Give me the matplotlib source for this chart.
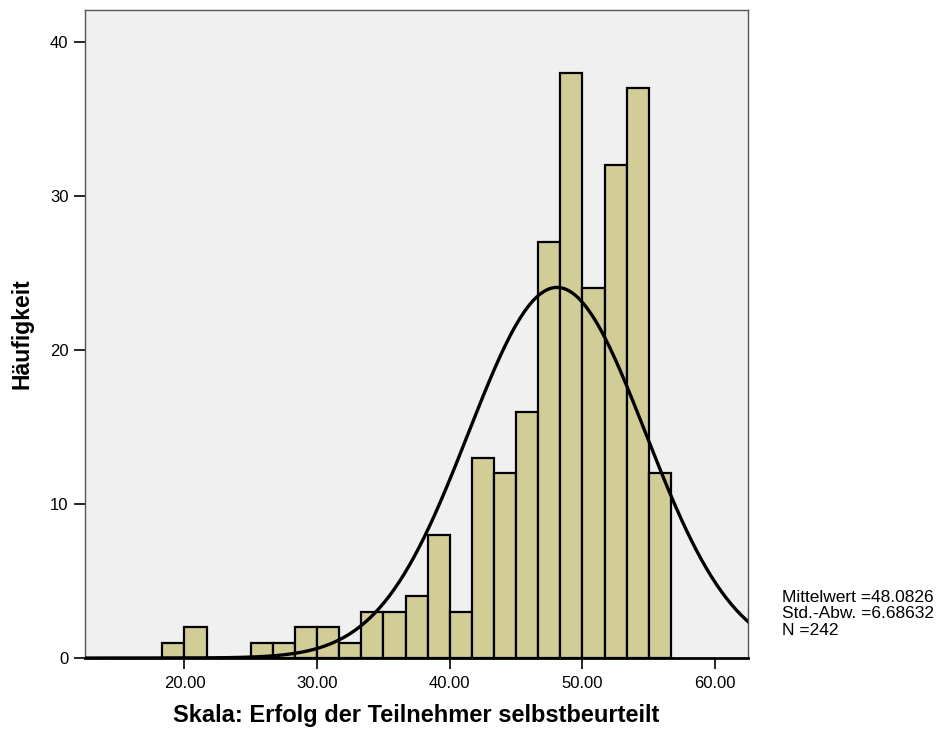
import numpy as np
import matplotlib
matplotlib.use("Agg")
from matplotlib import pyplot as plt

# histogram of the scale, bins of width 5/3 starting at 18.33
bin_edges = [18.3333 + i * (5.0 / 3.0) for i in range(24)]
counts = [1, 2, 0, 0, 1, 1, 2, 2, 1, 3, 3, 4, 8, 3, 13, 12, 16, 27, 38, 24, 32, 37, 12]
mean = 48.0826
sd = 6.68632
n = 242
x_ticks = [20, 30, 40, 50, 60]
y_ticks = [0, 10, 20, 30, 40]


def main():
    plt.rcParams["font.family"] = ["Liberation Sans", "DejaVu Sans"]
    fig = plt.figure(figsize=(9.38, 7.30), dpi=100)
    ax = fig.add_axes([0.0906, 0.0986, 0.7071, 0.8877])
    ax.set_facecolor("#f0f0f0")

    widths = np.diff(bin_edges)
    ax.bar(bin_edges[:-1], counts, width=widths, align="edge",
           color="#d2cd96", edgecolor="black", linewidth=1.6, zorder=2)

    # normal curve scaled to counts
    bw = 5.0 / 3.0
    xs = np.linspace(12.5, 62.5, 400)
    ys = n * bw / (sd * np.sqrt(2 * np.pi)) * np.exp(-0.5 * ((xs - mean) / sd) ** 2)
    ax.plot(xs, ys, color="black", linewidth=2.4, zorder=3, clip_on=True)

    ax.set_xlim(12.5, 62.5)
    ax.set_ylim(0, 42.08)
    ax.set_xticks(x_ticks)
    ax.set_xticklabels(["%.2f" % v for v in x_ticks])
    ax.set_yticks(y_ticks)
    ax.tick_params(axis="both", direction="out", length=8, width=1.2,
                   labelsize=12, colors="black")
    ax.tick_params(axis="x", pad=5)
    ax.tick_params(axis="y", pad=4)

    for side in ["left", "right", "top"]:
        ax.spines[side].set_color("#555555")
        ax.spines[side].set_linewidth(1.0)
    ax.spines["bottom"].set_color("black")
    ax.spines["bottom"].set_linewidth(2.0)

    ax.set_xlabel("Skala: Erfolg der Teilnehmer selbstbeurteilt",
                  fontsize=17, fontweight="bold", labelpad=9)
    ax.set_ylabel("Häufigkeit", fontsize=16.5, fontweight="bold", labelpad=12)

    stats = "Mittelwert =%.4f\nStd.-Abw. =%.5f\nN =%d" % (mean, sd, n)
    fig.text(782 / 938, 1 - 590 / 730, stats, fontsize=12.5, va="top",
             ha="left", linespacing=1.12)

    fig.savefig("out.png", dpi=100)


if __name__ == "__main__":
    main()
